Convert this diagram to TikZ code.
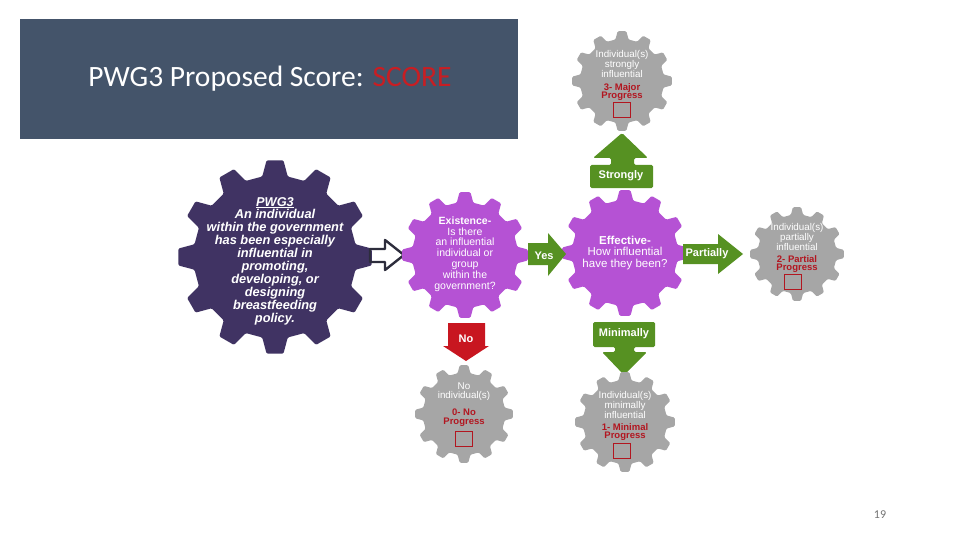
\documentclass[tikz,border=0pt]{standalone}
\usepackage{fontspec}
\setmainfont{Liberation Sans}
\newfontfamily\calib{Carlito}
\definecolor{titlebg}{RGB}{68,84,106}
\definecolor{scorered}{RGB}{200,30,35}
\definecolor{pwgpurple}{RGB}{64,51,99}
\definecolor{gearmag}{RGB}{181,82,212}
\definecolor{geargray}{RGB}{166,166,166}
\definecolor{arrowgreen}{RGB}{86,145,34}
\definecolor{arrowred}{RGB}{200,22,32}
\definecolor{darkred}{RGB}{178,22,32}
\definecolor{outlinedark}{RGB}{45,45,60}
\newcommand{\drawgear}[4]{%
  \fill[#4, rounded corners=1.2pt, shift={(#1,#2)}] (0:{#3})
  \foreach \k in {0,...,11}{ -- ({\k*30+5}:{#3}) -- ({\k*30+9}:{0.84*#3}) -- ({\k*30+21}:{0.84*#3}) -- ({\k*30+25}:{#3}) } -- cycle;
}
\tikzset{
  gtext/.style={text=white, align=center, inner sep=0pt},
  smallwhite/.style={gtext, font=\fontsize{9.8}{8.8}\selectfont},
  smallred/.style={text=darkred, align=center, inner sep=0pt, font=\bfseries\fontsize{9.5}{8.8}\selectfont},
  scorebox/.style={draw=darkred, line width=1pt, minimum width=17pt, minimum height=15pt, inner sep=0pt},
  arrowlabel/.style={text=white, inner sep=0pt, font=\bfseries\fontsize{11}{11}\selectfont}
}
\begin{document}
\begin{tikzpicture}[x=1pt,y=-1pt]
\useasboundingbox (0,0) rectangle (960,540);
\fill[white] (0,0) rectangle (960,540);

% title
\node[fill=titlebg, minimum width=498pt, minimum height=120pt, anchor=north west, inner sep=0pt] (titlebox) at (20,19) {};
\node[font=\calib\fontsize{29.5}{30}\selectfont, text=white, inner sep=0pt] (title) at (270,79) {PWG3 Proposed Score: \textcolor{scorered}{SCORE}};

% PWG3 gear
\drawgear{275}{257}{97}{pwgpurple}
\node[gtext, font=\bfseries\itshape\fontsize{12.8}{12.9}\selectfont] (pwg) at (275,261) {\underline{PWG3}\\An individual\\within the government\\has been especially\\influential in\\promoting,\\developing, or\\designing\\breastfeeding\\policy.};

% hollow arrow
\coordinate (hollowtip) at (404,255);
\draw[outlinedark, line width=2.4pt, line join=round] (370,249) -- (385,249) -- (385,240) -- (hollowtip) -- (385,270) -- (385,262) -- (370,262) -- cycle;

% Existence gear
\drawgear{465}{255}{63}{gearmag}
\node[gtext, font=\fontsize{10.5}{10.8}\selectfont] (exist) at (465,254) {\textbf{Existence-}\\Is there\\an influential\\individual or\\group\\within the\\government?};

% Effective gear
\drawgear{625}{253}{63}{gearmag}
\node[gtext, font=\fontsize{11.5}{11.5}\selectfont] (effect) at (625,253) {\textbf{Effective-}\\How influential\\have they been?};

% Yes arrow
\fill[arrowgreen] (528,243) -- (548,243) -- (548,233) -- (566,254) -- (548,276) -- (548,265) -- (528,265) -- cycle;
\node[arrowlabel] (yes) at (544,256) {Yes};

% Partially arrow
\fill[arrowgreen] (683,244) -- (718,244) -- (718,234) -- (743,254) -- (718,274) -- (718,264) -- (683,264) -- cycle;
\node[arrowlabel] (partially) at (707,254) {Partially};

% Strongly arrow
\fill[arrowgreen, rounded corners=1.5pt] (590,165) -- (611,165) -- (611,158) -- (593,158) -- (622,133) -- (648,158) -- (634,158) -- (634,165) -- (653,165) -- (653,188) -- (590,188) -- cycle;
\node[arrowlabel] (strongly) at (621,176) {Strongly};

% Minimally arrow
\fill[arrowgreen, rounded corners=1.5pt] (593,322) -- (655,322) -- (655,347) -- (634,347) -- (634,352) -- (647,352) -- (624,375) -- (602,352) -- (615,352) -- (615,347) -- (593,347) -- cycle;
\node[arrowlabel] (minimally) at (624,334) {Minimally};

% No arrow
\fill[arrowred] (448,323) -- (485,323) -- (485,346) -- (489,346) -- (466,361) -- (443,346) -- (448,346) -- cycle;
\node[arrowlabel] (no) at (466,339) {No};

% Major gear
\drawgear{622}{81}{50}{geargray}
\node[smallwhite] (majt) at (622,64) {Individual(s)\\strongly\\influential};
\node[smallred] (majs) at (622,92) {3- Major\\Progress};
\node[scorebox] (majb) at (622,110) {};

% Partial gear
\drawgear{797}{254}{47}{geargray}
\node[smallwhite] (part) at (797,237) {Individual(s)\\partially\\influential};
\node[smallred] (pars) at (797,264) {2- Partial\\Progress};
\node[scorebox] (parb) at (793,282) {};

% No gear
\drawgear{464}{414}{49}{geargray}
\node[smallwhite] (noot) at (464,392) {No\\individual(s)};
\node[smallred] (noos) at (464,418) {0- No\\Progress};
\node[scorebox] (noob) at (464,439) {};

% Minimal gear
\drawgear{625}{422}{50}{geargray}
\node[smallwhite] (mint) at (625,405) {Individual(s)\\minimally\\influential};
\node[smallred] (mins) at (625,432) {1- Minimal\\Progress};
\node[scorebox] (minb) at (622,451) {};

% page number
\node[font=\calib\fontsize{12}{12}\selectfont, text=black!55, inner sep=0pt] (page) at (880,515) {19};
\end{tikzpicture}
\end{document}
